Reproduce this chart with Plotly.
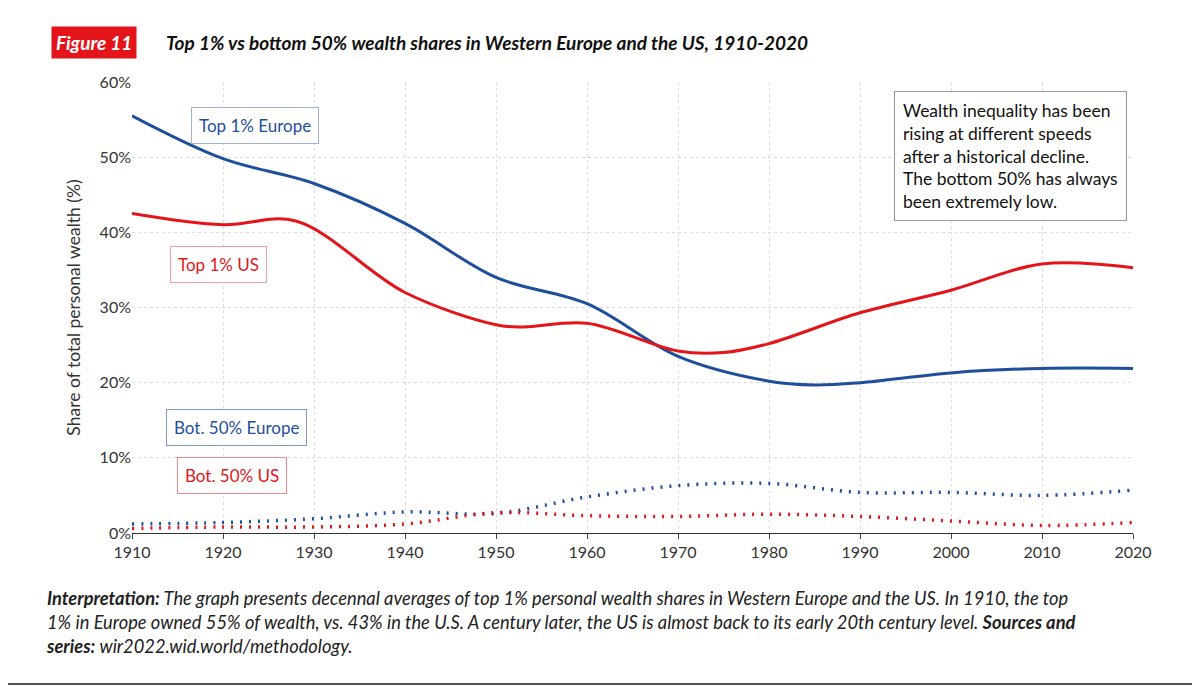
import plotly.graph_objects as go

years_eu_top = [1910,1920,1930,1940,1950,1960,1970,1980,1985,1990,2000,2010,2020]
eu_top = [55.5,49.8,46.5,41.2,34.0,30.5,23.5,20.2,19.7,20.0,21.3,21.9,21.9]
years_us_top = [1910,1920,1928,1940,1950,1953,1960,1970,1975,1980,1990,2000,2010,2020]
us_top = [42.5,41.0,41.5,32.0,27.7,27.4,27.9,24.2,24.0,25.2,29.3,32.3,35.8,35.3]
years = [1910,1920,1930,1940,1950,1960,1970,1980,1990,2000,2010,2020]
eu_bot = [1.2,1.4,1.9,2.8,2.6,4.8,6.3,6.6,5.4,5.4,5.0,5.7]
us_bot = [0.6,0.8,0.8,1.2,2.7,2.3,2.2,2.5,2.2,1.6,1.0,1.4]

BLUE = "#1f4e9c"
RED = "#e3151b"
F = "Lato"

fig = go.Figure()
fig.add_trace(go.Scatter(x=years_eu_top, y=eu_top, mode="lines", line=dict(color=BLUE, width=3, shape="spline", smoothing=1.0)))
fig.add_trace(go.Scatter(x=years_us_top, y=us_top, mode="lines", line=dict(color=RED, width=3, shape="spline", smoothing=1.0)))
fig.add_trace(go.Scatter(x=years, y=eu_bot, mode="lines", line=dict(color=BLUE, width=3.5, dash="2px,7px", shape="spline")))
fig.add_trace(go.Scatter(x=years, y=us_bot, mode="lines", line=dict(color=RED, width=3.5, dash="2px,7px", shape="spline")))

ann = []
def box(x, y, text, color, border):
    ann.append(dict(x=x, y=y, xref="x", yref="y", text=text, showarrow=False,
                    font=dict(family=F, size=17, color=color), bgcolor="white",
                    bordercolor=border, borderwidth=1, borderpad=7))
box(1923.5, 54.2, "Top 1% Europe", BLUE, "#9fb3d6")
box(1919.5, 35.7, "Top 1% US", RED, "#f1a0a3")
box(1921.5, 14.1, "Bot. 50% Europe", BLUE, "#7f9bcc")
box(1921.0, 7.7, "Bot. 50% US", RED, "#f08a8d")
ann.append(dict(x=2006.5, y=50.2, xref="x", yref="y", xanchor="center", align="left",
                text="Wealth inequality has been<br>rising at different speeds<br>after a historical decline.<br>The bottom 50% has always<br>been extremely low.",
                showarrow=False, font=dict(family=F, size=17.5, color="#111"), bgcolor="white",
                bordercolor="#999", borderwidth=1, borderpad=8))
ann.append(dict(x=94, y=42, xref="paper", yref="paper", xanchor="center", yanchor="middle",
                text="<b><i>Figure 11</i></b>", showarrow=False, font=dict(family=F, size=19, color="white"),
                bgcolor=RED, borderpad=4))
ann.append(dict(x=164, y=42, xref="paper", yref="paper", xanchor="left", yanchor="middle",
                text="<b><i>Top 1% vs bottom 50% wealth shares in Western Europe and the US, 1910-2020</i></b>",
                showarrow=False, font=dict(family=F, size=19, color="#111")))
ann.append(dict(x=44, y=622, xref="paper", yref="paper", xanchor="left", yanchor="middle", align="left",
                text="<b><i>Interpretation:</i></b><i> The graph presents decennal averages of top 1% personal wealth shares in Western Europe and the US. In 1910, the top</i><br><i>1% in Europe owned 55% of wealth, vs. 43% in the U.S. A century later, the US is almost back to its early 20th century level. </i><b><i>Sources and</i></b><br><b><i>series:</i></b><i> wir2022.wid.world/methodology.</i>",
                showarrow=False, font=dict(family=F, size=18.3, color="#222")))
# page has an 8px body offset; work in reference pixel coords
OFF = 8
W, H = 1200 - OFF, 686 - OFF
L, T = 132 - OFF, 82 - OFF
R = 1200 - 1133
B = 686 - 533
PW, PH = W - L - R, H - T - B
for a in ann:
    if a["xref"] == "paper":
        a["x"] = (a["x"] - OFF - L) / PW
        a["y"] = 1 - (a["y"] - OFF - T) / PH

ly = 1 - (684 - OFF - T) / PH
fig.update_layout(
    width=W, height=H, margin=dict(l=L, r=R, t=T, b=B), showlegend=False,
    plot_bgcolor="white", paper_bgcolor="white", annotations=ann,
    font=dict(family=F, size=16, color="#333"),
    xaxis=dict(range=[1910, 2020], tickvals=list(range(1910, 2021, 10)), showgrid=True,
               gridcolor="#dddddd", griddash="dot", showline=True, linecolor="#333", ticks="outside",
               ticklen=5, tickfont=dict(size=16)),
    yaxis=dict(range=[0, 60], tickvals=list(range(0, 61, 10)), ticktext=[f"{v}%" for v in range(0, 61, 10)],
               showgrid=True, gridcolor="#dddddd", griddash="dot", zeroline=False,
               title=dict(text="Share of total personal wealth (%)", font=dict(size=17.5), standoff=14),
               tickfont=dict(size=16)),
    shapes=[dict(type="line", xref="paper", yref="paper", x0=-L/PW, x1=1+R/PW,
                 y0=ly, y1=ly, line=dict(color="#555", width=2))]
)
fig.write_html("out.html")
